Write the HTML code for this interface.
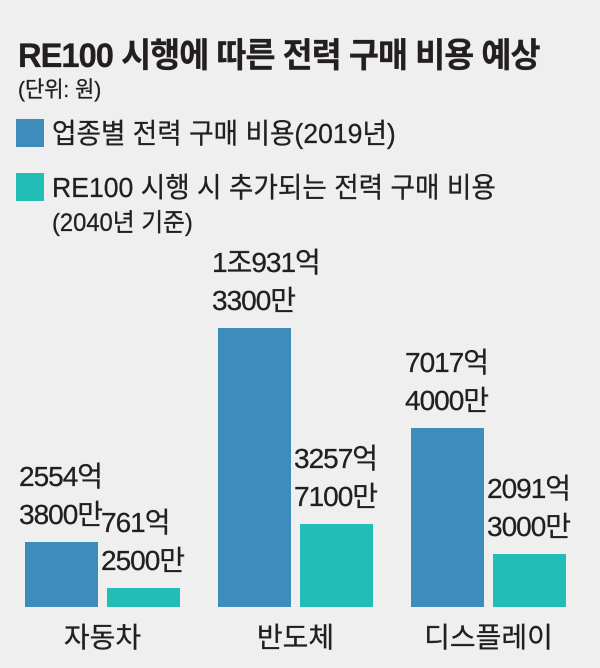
<!DOCTYPE html>
<html><head><meta charset="utf-8">
<style>
html,body{margin:0;padding:0}
body{width:600px;height:668px;background:#efefef;position:relative;overflow:hidden;font-family:"Liberation Sans","Noto Sans CJK KR","NanumGothic",sans-serif;color:#231f20}
.t{position:absolute;white-space:nowrap;transform-origin:0 0;transform:scaleX(0.95);-webkit-text-stroke:0.3px #231f20}
.sq{position:absolute;width:28px;height:28px}
</style></head><body>
<div class="t" style="left:18px;top:28px;font-size:34px;font-weight:bold;letter-spacing:-1px;transform:scaleX(0.96)">RE100 시행에 따른 전력 구매 비용 예상</div>
<div class="t" style="left:18px;top:72px;font-size:22px">(단위: 원)</div>
<div class="sq" style="left:16px;top:119px;background:#3d8cbc"></div>
<div class="t" style="left:52px;top:112px;font-size:28px">업종별 전력 구매 비용(2019년)</div>
<div class="sq" style="left:16px;top:173px;background:#22bdb5"></div>
<div class="t" style="left:52px;top:166px;font-size:28px">RE100 시행 시 추가되는 전력 구매 비용</div>
<div class="t" style="left:52px;top:203px;font-size:25px">(2040년 기준)</div>
<div id="chart"></div>
<script>
const categories=["자동차","반도체","디스플레이"];
const base2019=[2554.38,10931.33,7017.40];
const re100Added=[761.25,3257.71,2091.30];
const labels2019=[["2554억","3800만"],["1조931억","3300만"],["7017억","4000만"]];
const labelsRe100=[["761억","2500만"],["3257억","7100만"],["2091억","3000만"]];
const baseY=607, pxPerUnit=0.0255;
function y(v){return baseY-v*pxPerUnit;}
const groupX=[25,218,411], barW=73, gap=9;
const chart=document.getElementById('chart');
function bar(x,v,color,name,lab){
  const b=document.createElement('div');
  
  
  b.style.cssText='position:absolute;left:'+x+'px;top:'+y(v)+'px;width:'+barW+'px;height:'+(baseY-y(v))+'px;background:'+color;
  chart.appendChild(b);
  const l=document.createElement('div');
  
  
  l.className='t';
  l.style.cssText+='left:'+(x-6)+'px;top:'+(y(v)-84)+'px;font-size:28px;line-height:38px;letter-spacing:-1px;transform:scaleX(1)';
  l.innerHTML=lab[0]+'<br>'+lab[1];
  chart.appendChild(l);
}
categories.forEach((c,i)=>{
  const x=groupX[i];
  bar(x,base2019[i],'#3d8cbc','bar-2019-'+i,labels2019[i]);
  bar(x+barW+gap,re100Added[i],'#22bdb5','bar-re100-'+i,labelsRe100[i]);
  const t=document.createElement('div');
  
  
  t.style.cssText='position:absolute;left:'+(x)+'px;width:'+(2*barW+gap)+'px;top:616px;font-size:28px;text-align:center;white-space:nowrap;-webkit-text-stroke:0.3px #231f20';
  t.textContent=c;
  chart.appendChild(t);
});
</script>
</body></html>
